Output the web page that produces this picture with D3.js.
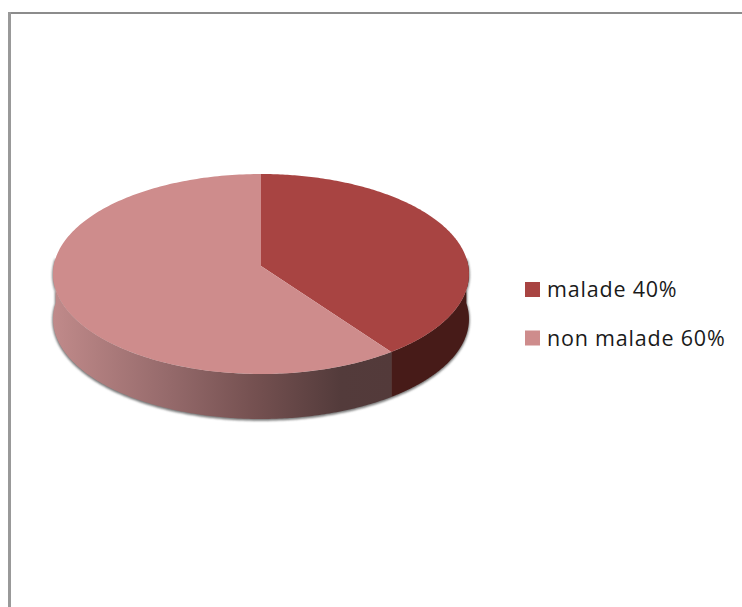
<!DOCTYPE html>
<html>
<head>
<meta charset="utf-8">
<script src="https://cdn.jsdelivr.net/npm/d3@7/dist/d3.min.js"></script>
<style>
  html, body { margin: 0; padding: 0; background: #fff; }
  svg { display: block; }
  text { font-family: "Open Sans", "Noto Sans", sans-serif; fill: #1a1a1a; }
</style>
</head>
<body>
<svg id="chart" width="742" height="607"></svg>
<script>
// Chart values
const categories = ["malade", "non malade"];
const shares = [40, 60];
const topColors = ["#a84442", "#ce8c8c"];

const svg = d3.select("#chart");
const defs = svg.append("defs");

// Tilted disc geometry
const cx = 261, hubY = 266, rimTop = 174, rimBottom = 374, halfWidth = 207.3;
const depth = 45;
const persp = (rimBottom - hubY - (hubY - rimTop)) / (rimBottom - rimTop);
const spread = (hubY - rimTop) * (1 + persp);

// Circle angle (clockwise from 12 o'clock) to screen position, with slight perspective
function project(angle, drop = 0) {
  const u = Math.sin(angle), v = Math.cos(angle);
  const w = 1 + persp * v;
  return [cx + halfWidth * u / w, hubY - spread * v / w + drop];
}

const pie = d3.pie().sort(null).value(d => d);
const slices = pie(shares);

const line = d3.line();
const arcPoints = (a0, a1, drop = 0) =>
  d3.range(0, 201).map(i => project(a0 + (a1 - a0) * i / 200, drop));

// Outer wall of a slice, limited to the part facing the viewer
function wallPath(a0, a1) {
  const from = Math.max(a0, Math.PI / 2 - persp);
  const to = Math.min(a1, 3 * Math.PI / 2 + persp);
  if (to <= from) return null;
  const upper = arcPoints(from, to);
  const lower = arcPoints(to, from, depth);
  return line(upper.concat(lower)) + "Z";
}

function wedgePath(s) {
  return line([[cx, hubY]].concat(arcPoints(s.startAngle, s.endAngle))) + "Z";
}

// Horizontal shading along the visible wall
const wallStops = [
  ["0%", "#c08a8a"], ["35%", "#94696a"], ["60%", "#745050"], ["85%", "#533b3b"], ["100%", "#533a3a"]
];
const grad = defs.append("linearGradient")
  .attr("id", "wallLight").attr("gradientUnits", "userSpaceOnUse")
  .attr("x1", 53).attr("x2", 392).attr("y1", 0).attr("y2", 0);
grad.selectAll("stop").data(wallStops).join("stop")
  .attr("offset", d => d[0]).attr("stop-color", d => d[1]);

const blur = defs.append("filter").attr("id", "soft")
  .attr("x", "-5%").attr("y", "-5%").attr("width", "110%").attr("height", "110%");
blur.append("feGaussianBlur").attr("stdDeviation", 1.2);

// Card edge, top and left only
svg.append("rect").attr("x", 8).attr("y", 12).attr("width", 734).attr("height", 2).attr("fill", "#8c8c8c");
svg.append("rect").attr("x", 8).attr("y", 12).attr("width", 3).attr("height", 595).attr("fill", "#999");

// Soft contact shadow around the wall
svg.append("path")
  .attr("d", wallPath(slices[0].startAngle, slices[1].endAngle))
  .attr("transform", "translate(0,1)")
  .attr("fill", "#777").attr("stroke", "#777").attr("stroke-width", 1.5)
  .attr("filter", "url(#soft)");

// Walls
const wallFills = ["#471b18", "url(#wallLight)"];
svg.selectAll("path.wall").data(slices).join("path")
  .attr("class", "wall")
  .attr("d", d => wallPath(d.startAngle, d.endAngle))
  .attr("fill", (d, i) => wallFills[i]);

// Top faces
svg.selectAll("path.top").data(slices).join("path")
  .attr("class", "top")
  .attr("d", wedgePath)
  .attr("fill", (d, i) => topColors[i]);

// Legend
const legendY = d3.scalePoint().domain(categories).range([289.5, 338]);
const legend = svg.selectAll("g.key").data(categories).join("g")
  .attr("class", "key")
  .attr("transform", d => `translate(525,${legendY(d)})`);
legend.append("rect").attr("x", 0).attr("y", -7.5).attr("width", 15).attr("height", 15)
  .attr("fill", (d, i) => topColors[i]);
legend.append("text").attr("x", 22).attr("y", 7.5).attr("font-size", 21.5)
  .attr("letter-spacing", 0.8)
  .text((d, i) => `${d} ${shares[i]}%`);
</script>
</body>
</html>
